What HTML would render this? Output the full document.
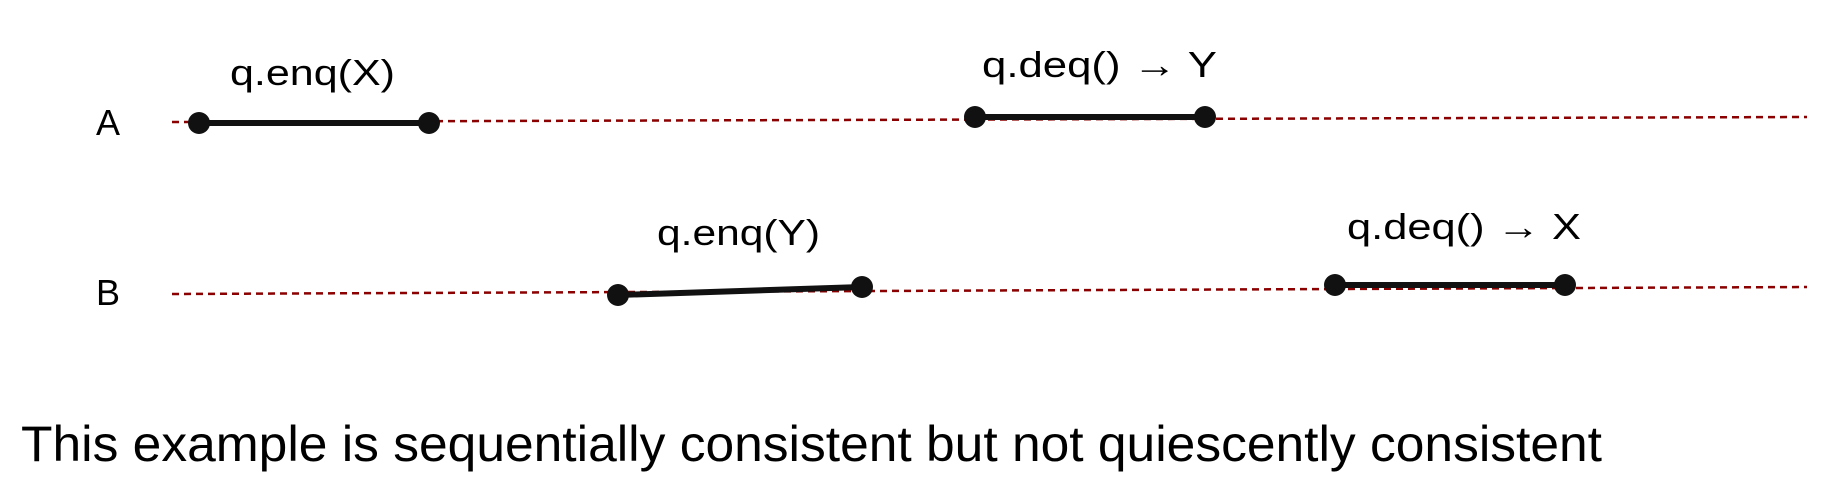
<!DOCTYPE html>
<html><head><meta charset="utf-8"><style>html,body{margin:0;padding:0;background:#fff}svg{display:block}</style></head>
<body>
<svg width="1848" height="494" viewBox="0 0 1848 494" xmlns="http://www.w3.org/2000/svg" font-family="Liberation Sans, sans-serif">
<line x1="172" y1="122" x2="1807" y2="117" stroke="#8b0000" stroke-width="2.5" stroke-dasharray="7 5"/>
<line x1="172" y1="294" x2="1807" y2="287" stroke="#8b0000" stroke-width="2.5" stroke-dasharray="7 5"/>
<g stroke="#111" stroke-width="6">
<line x1="199" y1="123" x2="429" y2="123"/>
<line x1="975" y1="117" x2="1205" y2="117"/>
<line x1="618" y1="295" x2="862" y2="287"/>
<line x1="1335" y1="285" x2="1565" y2="285"/>
</g>
<g fill="#111">
<circle cx="199" cy="123" r="11"/><circle cx="429" cy="123" r="11"/>
<circle cx="975" cy="117" r="11"/><circle cx="1205" cy="117" r="11"/>
<circle cx="618" cy="295" r="11"/><circle cx="862" cy="287" r="11"/>
<circle cx="1335" cy="285" r="11"/><circle cx="1565" cy="285" r="11"/>
</g>
<g font-size="36" fill="#000">
<text x="96" y="135">A</text>
<text x="96" y="305">B</text>
<text x="230" y="85" textLength="165" lengthAdjust="spacingAndGlyphs">q.enq(X)</text>
<text x="982" y="77" textLength="235" lengthAdjust="spacingAndGlyphs">q.deq() <tspan font-weight="bold">→</tspan> Y</text>
<text x="657" y="245" textLength="163" lengthAdjust="spacingAndGlyphs">q.enq(Y)</text>
<text x="1347" y="239" textLength="234" lengthAdjust="spacingAndGlyphs">q.deq() <tspan font-weight="bold">→</tspan> X</text>
</g>
<text x="21" y="461" font-size="50" textLength="1581" lengthAdjust="spacingAndGlyphs">This example is sequentially consistent but not quiescently consistent</text>
</svg>
</body></html>
